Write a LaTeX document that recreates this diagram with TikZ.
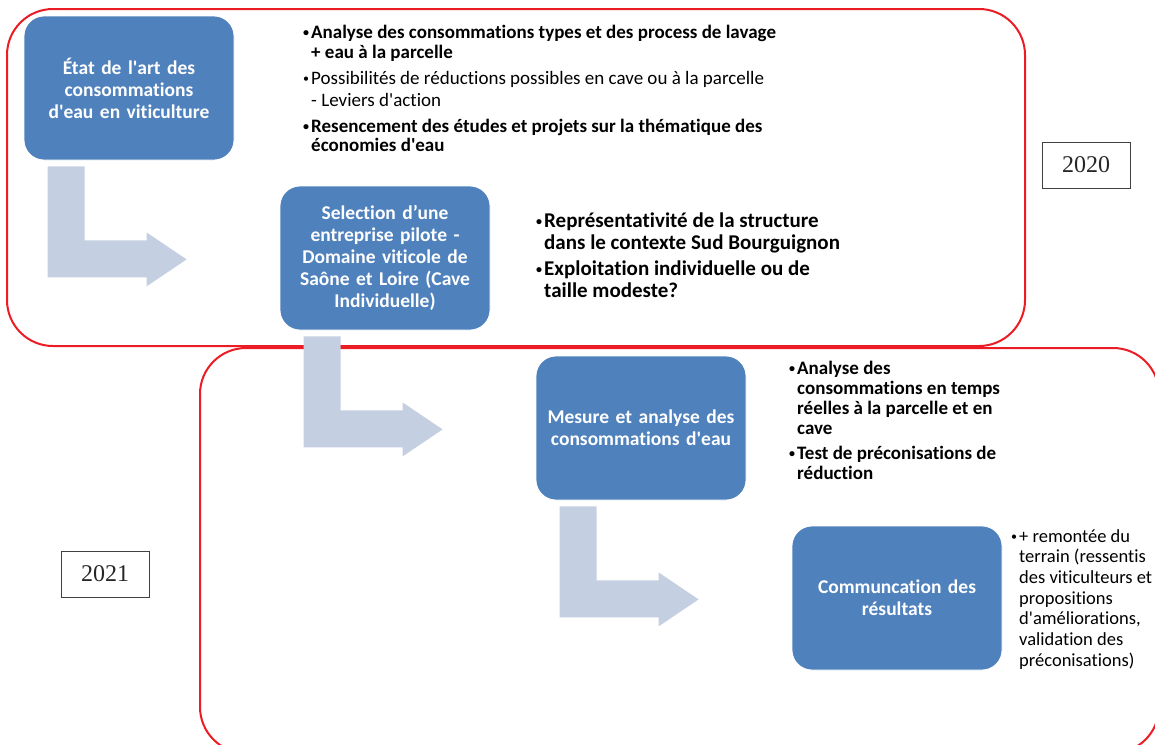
\documentclass[tikz,border=0pt]{standalone}
\usepackage{fontspec}
\setmainfont{Carlito}[Ligatures=NoCommon]
\newfontfamily\yearfont{Liberation Serif}
\usetikzlibrary{calc}
\definecolor{boxblue}{RGB}{79,129,189}
\definecolor{flowblue}{RGB}{197,207,226}
\definecolor{framered}{RGB}{236,28,36}
\def\drawflow{\fill[flowblue]}
\def\blt{\makebox[8pt][l]{\raisebox{2pt}{\fontsize{12}{12}\selectfont •}}}
\def\ind{\hspace*{8pt}}
\def\ap{\textquotesingle}

\begin{document}
\begin{tikzpicture}[x=1pt,y=-1pt,
  stepbox/.style={draw=white,line width=0.8pt,fill=boxblue,rounded corners=20pt,
    minimum width=210pt,minimum height=144pt,text width=200pt,align=center,
    inner sep=0pt,text=white,font=\fontsize{19.5}{22}\selectfont\bfseries},
  frame/.style={draw=framered,line width=2pt,rounded corners=46pt},
  note/.style={anchor=north west,align=left,inner sep=0pt,text=black},
  yearbox/.style={draw=black!75,line width=0.8pt,minimum width=88pt,minimum height=46pt,
    inner sep=0pt,text=black!85,font=\yearfont\fontsize{24}{24}\selectfont}]
\useasboundingbox (0,0) rectangle (1155,744);
\clip (0,0) rectangle (1155,744);

% -------- the two year frames ---------
\draw[frame] (7,9) rectangle (1025,346);
\draw[frame] (200,348) rectangle (1159,753);
\node[yearbox] (y2020) at (1086,165) {2020};
\node[yearbox] (y2021) at (105,574) {2021};

% -------- steps ---------
% Each step sits (256,170) below and right of the one before it.
\node[stepbox] (etat) at (129,88) {État de l\ap art des\\consommations\\d\ap eau en viticulture};
\node[stepbox] (selection) at ($ (etat) + (256,170) $) {Selection d’une\\entreprise pilote -\\Domaine viticole de\\Saône et Loire (Cave\\Individuelle)};
\node[stepbox] (mesure) at ($ (selection) + (256,170) $) {Mesure et analyse des\\consommations d\ap eau};
\node[stepbox] (comm) at ($ (mesure) + (256,170) $) {Communcation des\\résultats};

% bent arrows below the first three steps
\foreach \s in {etat,selection,mesure}
  \drawflow ($ (\s.south west) + (24,6) $) -- ++(37,0) -- ++(0,74) -- ++(62,0)
    -- ++(0,-8) -- ++(40,27) -- ++(-40,27) -- ++(0,-9) -- ++(-99,0) -- cycle;

% -------- notes beside the steps ---------
\node[note,font=\fontsize{19}{19.5}\selectfont] (note1) at (303,25)
  {\textbf{\blt Analyse des consommations types et des process de lavage}\\
   \textbf{\ind + eau à la parcelle}\\[6.5pt]
   \blt Possibilités de réductions possibles en cave ou à la parcelle\\[2.5pt]
   \ind - Leviers d\ap action\\[6.5pt]
   \textbf{\blt Resencement des études et projets sur la thématique des}\\
   \textbf{\ind économies d\ap eau}};
\node[note,font=\fontsize{21}{22}\selectfont\bfseries] (note2) at (536,213)
  {\blt Représentativité de la structure\\
   \ind dans le contexte Sud Bourguignon\\[4pt]
   \blt Exploitation individuelle ou de\\
   \ind taille modeste?};
\node[note,font=\fontsize{19}{20}\selectfont\bfseries] (note3) at (789,361)
  {\blt Analyse des\\
   \ind consommations en temps\\
   \ind réelles à la parcelle et en\\
   \ind cave\\[5pt]
   \blt Test de préconisations de\\
   \ind réduction};
\node[note,font=\fontsize{18.5}{20.7}\selectfont] (note4) at (1011,529)
  {\blt + remontée du\\
   \ind terrain (ressentis\\
   \ind des viticulteurs et\\
   \ind propositions\\
   \ind d\ap améliorations,\\
   \ind validation des\\
   \ind préconisations)};
\end{tikzpicture}
\end{document}
